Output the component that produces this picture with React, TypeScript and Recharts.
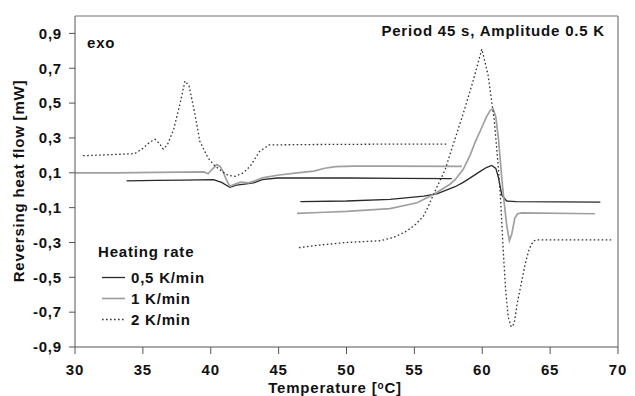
import React from 'react';
import { LineChart, Line, XAxis, YAxis, ReferenceLine } from 'recharts';

type P = { t: number; v: number | null };

const xTicks = [30, 35, 40, 45, 50, 55, 60, 65, 70];
const yTicks = [-0.9, -0.7, -0.5, -0.3, -0.1, 0.1, 0.3, 0.5, 0.7, 0.9];

const seriesNames = ['0,5 K/min', '1 K/min', '2 K/min'];

// 0.5 K/min (two runs, separated by a break)
const rate05: [number, number | null][] = [
  [33.8, 0.054], [36, 0.056], [38, 0.058], [40.2, 0.061], [40.8, 0.045], [41.4, 0.017],
  [41.9, 0.029], [42.5, 0.035], [43.15, 0.042], [43.8, 0.061], [44.9, 0.07], [47, 0.07],
  [50, 0.07], [54, 0.068], [57.75, 0.067],
  [57.8, null],
  [46.6, -0.065], [50, -0.062], [53.2, -0.053], [55.7, -0.034], [56.7, -0.019], [58, 0.02],
  [58.6, 0.045], [59.2, 0.075], [59.85, 0.108], [60.3, 0.13], [60.7, 0.142], [61.0, 0.125],
  [61.2, 0.07], [61.45, -0.03], [61.8, -0.062], [62.5, -0.066], [68.7, -0.068],
];

// 1 K/min
const rate1: [number, number | null][] = [
  [30, 0.1], [33, 0.1], [36, 0.102], [39.5, 0.105], [39.8, 0.094], [40.1, 0.12], [40.45, 0.147],
  [40.7, 0.135], [40.9, 0.108], [41.15, 0.06], [41.4, 0.023], [41.8, 0.035], [42.2, 0.046],
  [42.8, 0.042], [43.3, 0.055], [43.8, 0.071], [44.9, 0.086], [46.35, 0.1], [47.6, 0.11],
  [48.4, 0.126], [49.2, 0.135], [50.5, 0.138], [53, 0.138], [58.5, 0.137],
  [58.6, null],
  [46.35, -0.133], [48, -0.128], [50, -0.122], [53.2, -0.106], [55.2, -0.072], [56.4, -0.025],
  [57.6, 0.033], [58.0, 0.06], [58.6, 0.12], [59.1, 0.2], [59.5, 0.28], [59.85, 0.34],
  [60.3, 0.42], [60.6, 0.46], [60.8, 0.467], [61.0, 0.42], [61.2, 0.29], [61.45, 0.06],
  [61.6, -0.06], [61.8, -0.2], [62.0, -0.29], [62.18, -0.25], [62.4, -0.16], [62.6, -0.135],
  [62.9, -0.13], [68.3, -0.135],
];

// 2 K/min
const rate2: [number, number | null][] = [
  [30.6, 0.198], [32, 0.202], [34.4, 0.21], [35, 0.24], [35.5, 0.275], [35.9, 0.292],
  [36.2, 0.27], [36.5, 0.236], [36.8, 0.26], [37.26, 0.347], [37.75, 0.5], [38.1, 0.627],
  [38.4, 0.6], [38.8, 0.45], [39.2, 0.28], [39.8, 0.185], [40.3, 0.14], [40.8, 0.109],
  [41.3, 0.085], [41.8, 0.08], [42.4, 0.1], [42.9, 0.137], [43.6, 0.223], [44.3, 0.26],
  [47, 0.262], [52, 0.264], [57.4, 0.265],
  [57.5, null],
  [46.5, -0.33], [48, -0.315], [50, -0.3], [52.5, -0.29], [53.5, -0.27], [54.45, -0.234],
  [55.1, -0.195], [55.67, -0.149], [56.1, -0.08], [56.4, -0.025], [57.27, 0.118],
  [57.6, 0.2], [58.6, 0.44], [59.3, 0.62], [59.97, 0.81], [60.43, 0.661], [60.88, 0.404],
  [61.17, 0.147], [61.35, -0.053], [61.54, -0.339], [61.72, -0.568], [61.91, -0.727],
  [62.13, -0.785], [62.35, -0.767], [62.57, -0.653], [62.86, -0.539], [63.16, -0.425],
  [63.45, -0.339], [63.75, -0.293], [63.97, -0.285], [69.5, -0.285],
];

const toPts = (a: [number, number | null][]): P[] => a.map(([t, v]) => ({ t, v }));

const FONT = '"Liberation Sans", Arial, sans-serif';
const tickStyle = { fill: '#111', fontSize: 15, fontWeight: 700, fontFamily: FONT, letterSpacing: 0.8 };
const txt = { fill: '#111', fontSize: 15, fontWeight: 700, fontFamily: FONT, letterSpacing: 0.8 } as const;

const styles = [
  { stroke: '#2a2a2a', width: 1.3, dash: undefined as string | undefined },
  { stroke: '#a0a0a0', width: 1.7, dash: undefined as string | undefined },
  { stroke: '#333', width: 1.3, dash: '1.6 2.4' },
];

export default function App() {
  const data = [toPts(rate05), toPts(rate1), toPts(rate2)];
  return (
    <div style={{ position: 'absolute', left: 0, top: 0, width: 635, height: 396, background: '#fff' }}>
      <LineChart width={635} height={396} margin={{ top: 16, right: 17, left: 0, bottom: 0 }}>
        <XAxis
          type="number"
          dataKey="t"
          domain={[30, 70]}
          ticks={xTicks}
          allowDataOverflow
          height={49}
          tickSize={7}
          tickMargin={10}
          stroke="#555"
          tick={tickStyle}
        />
        <YAxis
          type="number"
          domain={[-0.9, 1.0]}
          ticks={yTicks}
          allowDataOverflow
          width={75}
          tickSize={6}
          tickMargin={7}
          stroke="#555"
          tick={tickStyle}
          tickFormatter={(v: number) => v.toFixed(1).replace('.', ',')}
        />
        <ReferenceLine y={1.0} stroke="#777" strokeWidth={1.2} />
        <ReferenceLine x={70} stroke="#777" strokeWidth={1.2} />
        {data.map((d, i) => (
          <Line
            key={seriesNames[i]}
            name={seriesNames[i]}
            data={d}
            dataKey="v"
            type="linear"
            stroke={styles[i].stroke}
            strokeWidth={styles[i].width}
            strokeDasharray={styles[i].dash}
            dot={false}
            activeDot={false}
            connectNulls={false}
            isAnimationActive={false}
          />
        ))}
      </LineChart>
      <svg width={635} height={396} style={{ position: 'absolute', left: 0, top: 0, pointerEvents: 'none' }}>
        <text x={87} y={48} {...txt}>exo</text>
        <text x={605} y={36} textAnchor="end" {...txt}>Period 45 s, Amplitude 0.5 K</text>
        <text x={98} y={257} {...txt}>Heating rate</text>
        {seriesNames.map((n, i) => (
          <g key={n}>
            <line
              x1={102}
              x2={125}
              y1={277.5 + i * 21}
              y2={277.5 + i * 21}
              stroke={styles[i].stroke}
              strokeWidth={styles[i].width}
              strokeDasharray={styles[i].dash}
            />
            <text x={131} y={282.5 + i * 21} {...txt}>{n}</text>
          </g>
        ))}
        <text x={335} y={392.5} textAnchor="middle" {...txt}>
          Temperature [<tspan dy={-4} fontSize={10}>o</tspan><tspan dy={4}>C]</tspan>
        </text>
        <text x={24} y={181} textAnchor="middle" transform="rotate(-90 24 181)" {...txt}>
          Reversing heat flow [mW]
        </text>
      </svg>
    </div>
  );
}
